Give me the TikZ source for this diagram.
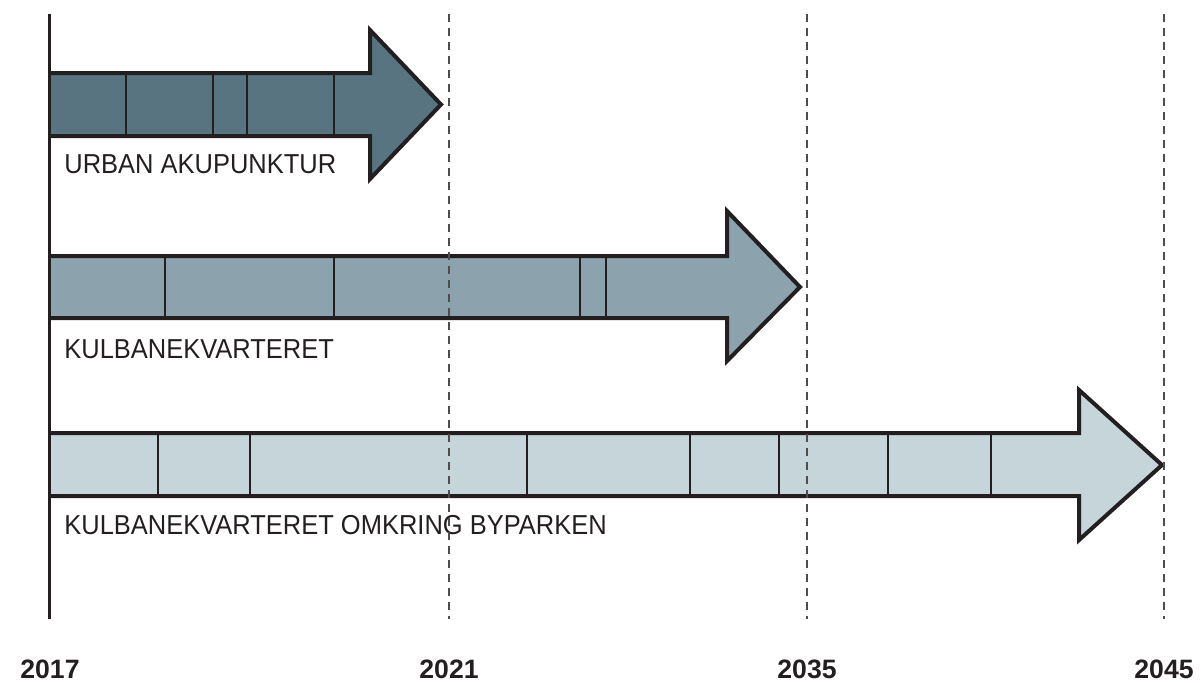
\documentclass[tikz,border=0pt]{standalone}
\usepackage{fontspec}
\setmainfont{Liberation Sans}
\newfontfamily\phasefont[FakeStretch=0.93]{Liberation Sans}
\usetikzlibrary{positioning}
\definecolor{SlateDark}{HTML}{577480}
\definecolor{SlateMid}{HTML}{8CA2AC}
\definecolor{SlateLight}{HTML}{C6D5D9}
\definecolor{InkGray}{HTML}{231F20}

\tikzset{
  phaseedge/.style={draw=InkGray, line width=2pt, line join=miter},
  divider/.style={draw=InkGray, line width=1pt},
  yearline/.style={draw=InkGray!80, line width=0.6pt, dash pattern=on 4pt off 3pt},
  phaselabel/.style={anchor=base west, inner sep=0pt, text=InkGray,
    font=\phasefont\fontsize{13.7}{16}\selectfont},
  yearlabel/.style={anchor=base, inner sep=0pt, text=InkGray,
    font=\bfseries\fontsize{13.3}{16}\selectfont}
}

\begin{document}
\begin{tikzpicture}[x=0.5pt, y=-0.5pt]
  \useasboundingbox (0,0) rectangle (1202,682);

  % Phase 1: urban akupunktur
  \fill[SlateDark] (49,73) -- (370,73) -- (370,30) -- (441,104.5)
    -- (370,179) -- (370,136) -- (49,136) -- cycle;
  \foreach \x in {126, 213, 247, 334} {
    \draw[divider] (\x,73) -- (\x,136);
  }
  \draw[phaseedge] (49,73) -- (370,73) -- (370,30) -- (441,104.5)
    -- (370,179) -- (370,136) -- (49,136);
  \node[phaselabel] (akupunktur) at (64,173) {URBAN AKUPUNKTUR};

  % Phase 2: kulbanekvarteret
  \fill[SlateMid] (49,256) -- (727,256) -- (727,211) -- (800,287)
    -- (727,361) -- (727,318) -- (49,318) -- cycle;
  \foreach \x in {165, 334, 580, 606} {
    \draw[divider] (\x,256) -- (\x,318);
  }
  \draw[phaseedge] (49,256) -- (727,256) -- (727,211) -- (800,287)
    -- (727,361) -- (727,318) -- (49,318);
  \node[phaselabel] (kvarteret) at (64,358) {KULBANEKVARTERET};

  % Phase 3: omkring byparken
  \fill[SlateLight] (49,433) -- (1079,433) -- (1079,390) -- (1162,465)
    -- (1079,540) -- (1079,496) -- (49,496) -- cycle;
  \foreach \x in {158, 250, 527, 690, 779, 888, 991} {
    \draw[divider] (\x,433) -- (\x,496);
  }
  \draw[phaseedge] (49,433) -- (1079,433) -- (1079,390) -- (1162,465)
    -- (1079,540) -- (1079,496) -- (49,496);
  \node[phaselabel] (byparken) at (64,534) {KULBANEKVARTERET OMKRING BYPARKEN};

  % Time axis and year markers
  \coordinate (axtop) at (49,14);
  \coordinate (axbot) at (49,619);
  \draw[draw=InkGray, line width=1.5pt] (axtop) -- (axbot);
  \node[yearlabel] (y2017) at (50,678) {2017};
  \foreach \x/\yr in {449/2021, 807/2035, 1164/2045} {
    \draw[yearline] (\x,14) -- (\x,619);
    \node[yearlabel] (y\yr) at (\x,678) {\yr};
  }
\end{tikzpicture}
\end{document}
